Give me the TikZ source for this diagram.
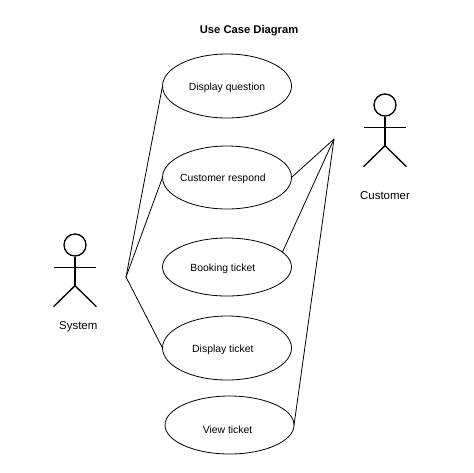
\documentclass[tikz,border=0pt]{standalone}
\usepackage{fontspec}
\setmainfont{Liberation Sans}
\usetikzlibrary{positioning, shapes.geometric}

\tikzset{
    usecase/.style={draw, ellipse, inner sep=0pt, outer sep=0pt, line width=0.6pt, minimum width=96.75pt, minimum height=48pt, text height=6.5pt, text depth=0pt, font=\fontsize{7.8pt}{10pt}\selectfont},
    usecaseflat/.style={usecase, minimum height=43.5pt},
    head/.style={draw, circle, inner sep=0pt, line width=1pt, minimum size=16.5pt},
    limb/.style={line width=1pt},
    link/.style={line width=0.6pt},
    actorname/.style={font=\fontsize{8.6pt}{10pt}\selectfont}
}
% text set a little left of the middle of its ellipse
\newcommand{\lefttext}[1]{\makebox[0pt]{#1\kern6.2pt}}

\begin{document}
\begin{tikzpicture}
    \useasboundingbox (0,0) rectangle (355.5pt,-354pt);

    \node[font=\fontsize{8.4pt}{10pt}\selectfont\bfseries] (title) at (186.8pt,-22.8pt) {Use Case Diagram};

    \node[usecase] (question) at (170.25pt,-64.5pt) {Display question};
    \node[usecase, minimum height=47.25pt, below=21pt of question] (respond) {\lefttext{Customer respond}};
    \node[usecaseflat, below=21.75pt of respond] (booking) {\lefttext{Booking ticket}};
    \node[usecase, below=15pt of booking] (display) {\lefttext{Display ticket}};
    \node[usecaseflat, text height=12.5pt, below=12pt of display, xshift=1.9pt] (view) {\makebox[0pt]{View ticket\kern3pt}};

    % system actor
    \node[head] (syshead) at (56.25pt,-183.75pt) {};
    \draw[limb] (syshead.south) -- ++(0,-21.75pt) coordinate (syship);
    \draw[limb] ([shift={(-16.1pt,-8.25pt)}]syshead.south) -- ([shift={(16.1pt,-8.25pt)}]syshead.south);
    \draw[limb] ([shift={(-16.1pt,-15.75pt)}]syship) -- (syship) -- ([shift={(16.1pt,-15.75pt)}]syship);
    \node[actorname] (sysname) at (58.7pt,-244.8pt) {System};

    % customer actor
    \node[head] (cushead) at (288.75pt,-78.75pt) {};
    \draw[limb] (cushead.south) -- ++(0,-21.75pt) coordinate (cuship);
    \draw[limb] ([shift={(-16.1pt,-8.25pt)}]cushead.south) -- ([shift={(16.1pt,-8.25pt)}]cushead.south);
    \draw[limb] ([shift={(-16.1pt,-15.75pt)}]cuship) -- (cuship) -- ([shift={(16.1pt,-15.75pt)}]cuship);
    \node[actorname] (cusname) at (288.75pt,-147pt) {Customer};

    \coordinate (sysjoin) at (94.5pt,-207.75pt);
    \coordinate (cusjoin) at (250.5pt,-104.25pt);

    \draw[link] (sysjoin) -- (question.west);
    \draw[link] (sysjoin) -- (respond.west);
    \draw[link] (sysjoin) -- (display.west);
    \draw[link] (cusjoin) -- (respond.east);
    \draw[link] (cusjoin) -- (booking.15);
    \draw[link] (cusjoin) -- (view.east);
\end{tikzpicture}
\end{document}
